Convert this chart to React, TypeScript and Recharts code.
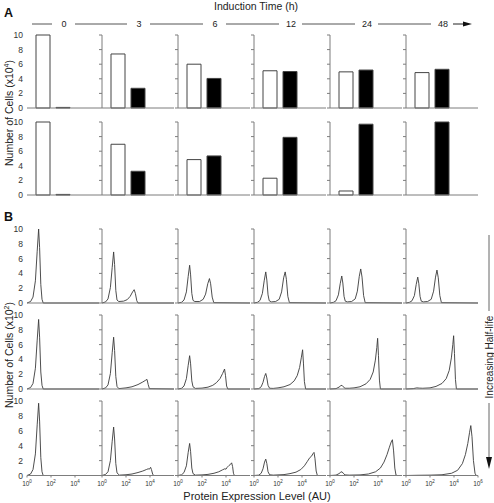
import React from 'react';
import { BarChart, Bar, LineChart, Line, XAxis, YAxis } from 'recharts';

const FONT = '"Liberation Sans", Arial, sans-serif';
const AXIS = '#7d7d7d';
const INK = '#3a3a3a';

const times = ['0', '3', '6', '12', '24', '48'];
const yTicks = [0, 2, 4, 6, 8, 10];

// panel A, number of cells (x10^4): white = off state, black = on state
const topWhite = [10, 7.4, 6.0, 5.1, 4.95, 4.85];
const topBlack = [0.08, 2.7, 4.05, 5.0, 5.2, 5.3];
const bottomWhite = [10, 6.95, 4.85, 2.3, 0.55, 0];
const bottomBlack = [0.08, 3.25, 5.35, 7.9, 9.7, 10];

// panel B histograms: [log10 expression, cells x10^2]
const fast0 = [[0, 0], [0.3, 0.2], [0.5, 0.8], [0.7, 3], [0.85, 7], [0.97, 10], [1.05, 7.5], [1.15, 2.5], [1.25, 0.5], [1.35, 0], [6, 0]];
const fast3 = [[0, 0], [0.3, 0.15], [0.5, 0.55], [0.7, 2.1], [0.85, 4.8], [0.97, 6.9], [1.05, 5.2], [1.15, 1.7], [1.25, 0.4], [1.4, 0.2], [1.8, 0.25], [2.1, 0.45], [2.35, 0.9], [2.55, 1.5], [2.68, 1.8], [2.78, 1.3], [2.9, 0.3], [3.0, 0], [6, 0]];
const fast6 = [[0, 0], [0.3, 0.1], [0.5, 0.4], [0.7, 1.5], [0.85, 3.6], [0.97, 5.1], [1.05, 3.8], [1.15, 1.3], [1.25, 0.35], [1.4, 0.2], [1.8, 0.2], [2.1, 0.5], [2.3, 1.2], [2.48, 2.6], [2.62, 3.3], [2.72, 2.6], [2.85, 0.8], [2.98, 0.05], [6, 0]];
const fast12 = [[0, 0], [0.3, 0.1], [0.5, 0.35], [0.7, 1.3], [0.85, 3], [0.98, 4.2], [1.07, 3.1], [1.17, 1.1], [1.27, 0.3], [1.45, 0.15], [1.8, 0.2], [2.1, 0.5], [2.3, 1.5], [2.47, 3.4], [2.6, 4.2], [2.7, 3.2], [2.82, 0.9], [2.95, 0.05], [6, 0]];
const fast24 = [[0, 0], [0.3, 0.1], [0.5, 0.3], [0.7, 1.1], [0.85, 2.6], [0.98, 3.65], [1.07, 2.7], [1.17, 0.9], [1.27, 0.25], [1.45, 0.15], [1.8, 0.2], [2.1, 0.55], [2.28, 1.6], [2.44, 3.6], [2.56, 4.6], [2.67, 3.5], [2.8, 1], [2.93, 0.05], [6, 0]];
const fast48 = [[0, 0], [0.3, 0.1], [0.5, 0.3], [0.7, 1.0], [0.85, 2.5], [0.98, 3.5], [1.07, 2.6], [1.17, 0.9], [1.27, 0.25], [1.45, 0.15], [1.8, 0.2], [2.1, 0.5], [2.3, 1.6], [2.46, 3.5], [2.58, 4.45], [2.69, 3.4], [2.82, 1], [2.95, 0.05], [6, 0]];

const mid0 = [[0, 0], [0.3, 0.2], [0.5, 0.75], [0.7, 2.8], [0.85, 6.6], [0.97, 9.4], [1.05, 7], [1.15, 2.3], [1.25, 0.5], [1.35, 0], [6, 0]];
const mid3 = [[0, 0], [0.3, 0.15], [0.5, 0.55], [0.7, 2.1], [0.85, 4.9], [0.97, 7.0], [1.05, 5.2], [1.15, 1.7], [1.25, 0.35], [1.4, 0.05], [2, 0.15], [2.5, 0.3], [3, 0.6], [3.4, 0.95], [3.65, 1.2], [3.75, 1.3], [3.85, 0.6], [3.95, 0.05], [6, 0]];
const mid6 = [[0, 0], [0.3, 0.1], [0.5, 0.4], [0.7, 1.4], [0.85, 3.2], [0.97, 4.5], [1.05, 3.4], [1.15, 1.1], [1.25, 0.3], [1.45, 0.08], [2, 0.12], [2.5, 0.25], [2.9, 0.5], [3.2, 0.85], [3.5, 1.4], [3.72, 2.1], [3.88, 2.7], [3.96, 1.8], [4.05, 0.4], [4.15, 0], [6, 0]];
const mid12 = [[0, 0], [0.4, 0.05], [0.6, 0.3], [0.75, 0.9], [0.88, 1.7], [0.98, 2.1], [1.07, 1.5], [1.17, 0.5], [1.3, 0.1], [1.6, 0.08], [2, 0.15], [2.5, 0.3], [3, 0.6], [3.35, 1.1], [3.6, 1.8], [3.8, 2.9], [3.95, 4.3], [4.05, 5.3], [4.12, 3.5], [4.2, 1], [4.3, 0], [6, 0]];
const mid24 = [[0, 0], [0.5, 0.05], [0.75, 0.25], [0.9, 0.45], [1.0, 0.5], [1.1, 0.3], [1.25, 0.1], [1.6, 0.1], [2, 0.15], [2.5, 0.3], [3, 0.7], [3.35, 1.3], [3.6, 2.3], [3.78, 3.9], [3.9, 5.6], [3.97, 6.85], [4.04, 4.5], [4.12, 1.2], [4.2, 0], [6, 0]];
const mid48 = [[0, 0], [0.6, 0.05], [0.9, 0.15], [1.1, 0.12], [1.4, 0.1], [2, 0.15], [2.5, 0.35], [3, 0.75], [3.35, 1.4], [3.6, 2.5], [3.78, 4.2], [3.9, 6], [3.97, 7.2], [4.04, 4.8], [4.12, 1.3], [4.2, 0], [6, 0]];

const slow0 = [[0, 0], [0.3, 0.2], [0.5, 0.8], [0.7, 2.9], [0.85, 6.8], [0.97, 9.7], [1.05, 7.3], [1.15, 2.4], [1.25, 0.5], [1.35, 0], [6, 0]];
const slow3 = [[0, 0], [0.3, 0.15], [0.5, 0.5], [0.7, 2], [0.85, 4.6], [0.97, 6.5], [1.05, 4.9], [1.15, 1.6], [1.25, 0.35], [1.45, 0.05], [2, 0.1], [2.5, 0.2], [3, 0.4], [3.4, 0.6], [3.7, 0.8], [3.85, 0.9], [3.95, 0.85], [4.05, 1.1], [4.12, 0.8], [4.22, 0.2], [4.3, 0], [6, 0]];
const slow6 = [[0, 0], [0.3, 0.1], [0.5, 0.4], [0.7, 1.3], [0.85, 3.1], [0.97, 4.3], [1.05, 3.2], [1.15, 1], [1.25, 0.25], [1.45, 0.05], [2, 0.08], [2.5, 0.15], [3, 0.3], [3.4, 0.5], [3.7, 0.75], [3.9, 0.9], [4.0, 0.85], [4.1, 1.1], [4.25, 1.35], [4.38, 1.5], [4.47, 1.7], [4.55, 1.2], [4.62, 0.3], [4.7, 0], [6, 0]];
const slow12 = [[0, 0], [0.4, 0.05], [0.6, 0.3], [0.75, 0.9], [0.88, 1.8], [0.98, 2.2], [1.07, 1.6], [1.17, 0.5], [1.3, 0.1], [1.6, 0.05], [2, 0.08], [2.5, 0.12], [3, 0.25], [3.5, 0.45], [3.9, 0.8], [4.2, 1.3], [4.45, 1.9], [4.65, 2.4], [4.8, 2.6], [4.9, 2.9], [5.0, 3.1], [5.08, 2.3], [5.18, 0.6], [5.28, 0], [6, 0]];
const slow24 = [[0, 0], [0.5, 0.05], [0.75, 0.25], [0.9, 0.45], [1.0, 0.5], [1.1, 0.3], [1.25, 0.08], [1.6, 0.05], [2.5, 0.08], [3.2, 0.2], [3.8, 0.5], [4.2, 1.0], [4.5, 1.8], [4.75, 2.8], [4.95, 3.8], [5.1, 4.5], [5.2, 4.8], [5.3, 3.3], [5.4, 1.0], [5.5, 0.05], [5.6, 0], [6, 0]];
const slow48 = [[0, 0], [1, 0.03], [2, 0.05], [3, 0.1], [3.8, 0.3], [4.3, 0.7], [4.7, 1.6], [4.95, 2.8], [5.15, 4.3], [5.3, 5.8], [5.4, 6.7], [5.5, 5.2], [5.62, 2], [5.75, 0.3], [5.85, 0], [6, 0]];

const histRows = [
  [fast0, fast3, fast6, fast12, fast24, fast48],
  [mid0, mid3, mid6, mid12, mid24, mid48],
  [slow0, slow3, slow6, slow12, slow24, slow48],
];

// layout
const colX = [27, 102, 178, 254, 330, 406];
const PW = 72;
const WY = 22;
const barRowTop = [35, 122];
const histRowTop = [229, 315, 401];
const histH = [74, 74, 74.5];

const yAxisProps = (col: number) => ({
  width: WY,
  domain: [0, 10] as [number, number],
  ticks: yTicks,
  interval: 0 as const,
  tickSize: 3,
  tickMargin: 1,
  axisLine: col > 0 ? { stroke: AXIS } : false,
  tickLine: col > 0 ? { stroke: AXIS } : false,
  tick: { fontSize: 8.5, fill: '#333', fontFamily: FONT },
  tickFormatter: (v: number) => (col === 0 ? String(v) : ''),
});

function BarPanel({ col, top, white, black }: { col: number; top: number; white: number; black: number }) {
  const data = [{ t: times[col], white, black }];
  return (
    <div style={{ position: 'absolute', left: colX[col] - WY, top: top - 6 }}>
      <BarChart width={WY + PW + 2} height={6 + 73 + 1 + 6} data={data} margin={{ top: 6, right: 2, bottom: 6, left: 0 }} barGap={6}>
        <XAxis dataKey="t" height={1} tick={false} tickLine={false} axisLine={{ stroke: AXIS }} padding={{ left: 0, right: 20 }} />
        <YAxis {...yAxisProps(col)} />
        <Bar dataKey="white" fill="#fff" stroke="#444" barSize={14} isAnimationActive={false} />
        <Bar dataKey="black" fill="#000" stroke="#444" barSize={14} isAnimationActive={false} />
      </BarChart>
    </div>
  );
}

function XTick(props: any) {
  const { x, y, payload } = props;
  return (
    <text x={x} y={y + 6} textAnchor="middle" fontSize={6.5} fill="#333" fontFamily={FONT}>
      10<tspan dy={-3} fontSize={4.5}>{payload.value}</tspan>
    </text>
  );
}

function HistPanel({ col, row, pts }: { col: number; row: number; pts: number[][] }) {
  const bottom = row === 2;
  const xh = bottom ? 14 : 1;
  const mb = bottom ? 1 : 6;
  const h = histH[row];
  const data = pts.map(([x, y]) => ({ x, y }));
  return (
    <div style={{ position: 'absolute', left: colX[col] - WY, top: histRowTop[row] - 6 }}>
      <LineChart width={WY + PW + 10} height={6 + h + xh + mb} data={data} margin={{ top: 6, right: 10, bottom: mb, left: 0 }}>
        <XAxis
          dataKey="x"
          type="number"
          domain={[0, 6]}
          ticks={col === 5 ? [0, 2, 4, 6] : [0, 2, 4]}
          interval={0}
          height={xh}
          tickSize={2}
          tick={bottom ? (p: any) => <XTick {...p} /> : false}
          tickLine={bottom ? { stroke: AXIS } : false}
          axisLine={{ stroke: AXIS }}
        />
        <YAxis {...yAxisProps(col)} />
        <Line dataKey="y" type="linear" stroke={INK} strokeWidth={0.9} dot={false} isAnimationActive={false} />
      </LineChart>
    </div>
  );
}

function RotText({ x, y, children, size }: { x: number; y: number; children: React.ReactNode; size: number }) {
  return (
    <text transform={`translate(${x},${y}) rotate(-90)`} textAnchor="middle" dy="0.35em" fontSize={size} fill="#222" fontFamily={FONT}>
      {children}
    </text>
  );
}

export default function App() {
  const labelX = colX.map((x) => x + 37);
  return (
    <div style={{ position: 'absolute', left: 0, top: 0, width: 494, height: 503, background: '#fff', fontFamily: FONT }}>
      {times.map((_, c) => (
        <React.Fragment key={'a' + c}>
          <BarPanel col={c} top={barRowTop[0]} white={topWhite[c]} black={topBlack[c]} />
          <BarPanel col={c} top={barRowTop[1]} white={bottomWhite[c]} black={bottomBlack[c]} />
        </React.Fragment>
      ))}
      {histRows.map((curves, r) =>
        curves.map((pts, c) => <HistPanel key={`h${r}-${c}`} col={c} row={r} pts={pts} />)
      )}
      <svg width={494} height={503} style={{ position: 'absolute', left: 0, top: 0, pointerEvents: 'none' }}>
        <text x={4} y={17} fontSize={12.5} fontWeight="bold" fill="#111" fontFamily={FONT}>A</text>
        <text x={4} y={221} fontSize={12.5} fontWeight="bold" fill="#111" fontFamily={FONT}>B</text>
        <text x={256} y={10} textAnchor="middle" fontSize={10.5} fill="#222" fontFamily={FONT}>Induction Time (h)</text>
        {times.map((t, i) => (
          <React.Fragment key={'t' + i}>
            <text x={labelX[i]} y={27} textAnchor="middle" fontSize={9} fill="#222" fontFamily={FONT}>{t}</text>
            <line x1={i === 0 ? 32 : labelX[i - 1] + 11} x2={labelX[i] - 12} y1={24} y2={24} stroke="#555" strokeWidth={1} />
          </React.Fragment>
        ))}
        <line x1={453} x2={464} y1={24} y2={24} stroke="#222" strokeWidth={1} />
        <polygon points="463,21.5 472,24 463,26.5" fill="#111" />
        <RotText x={9} y={113} size={10.5}>
          Number of Cells (x10<tspan dy={-4} fontSize={7}>4</tspan><tspan dy={4}>)</tspan>
        </RotText>
        <RotText x={9} y={355} size={10.5}>
          Number of Cells (x10<tspan dy={-4} fontSize={7}>2</tspan><tspan dy={4}>)</tspan>
        </RotText>
        <text x={257} y={500} textAnchor="middle" fontSize={11} fill="#222" fontFamily={FONT}>Protein Expression Level (AU)</text>
        <line x1={489} x2={489} y1={235} y2={311} stroke="#666" strokeWidth={1} />
        <RotText x={489} y={357} size={10}>Increasing Half-life</RotText>
        <line x1={489} x2={489} y1={403} y2={458} stroke="#666" strokeWidth={1} />
        <polygon points="486,457 492,457 489,469" fill="#111" />
      </svg>
    </div>
  );
}
